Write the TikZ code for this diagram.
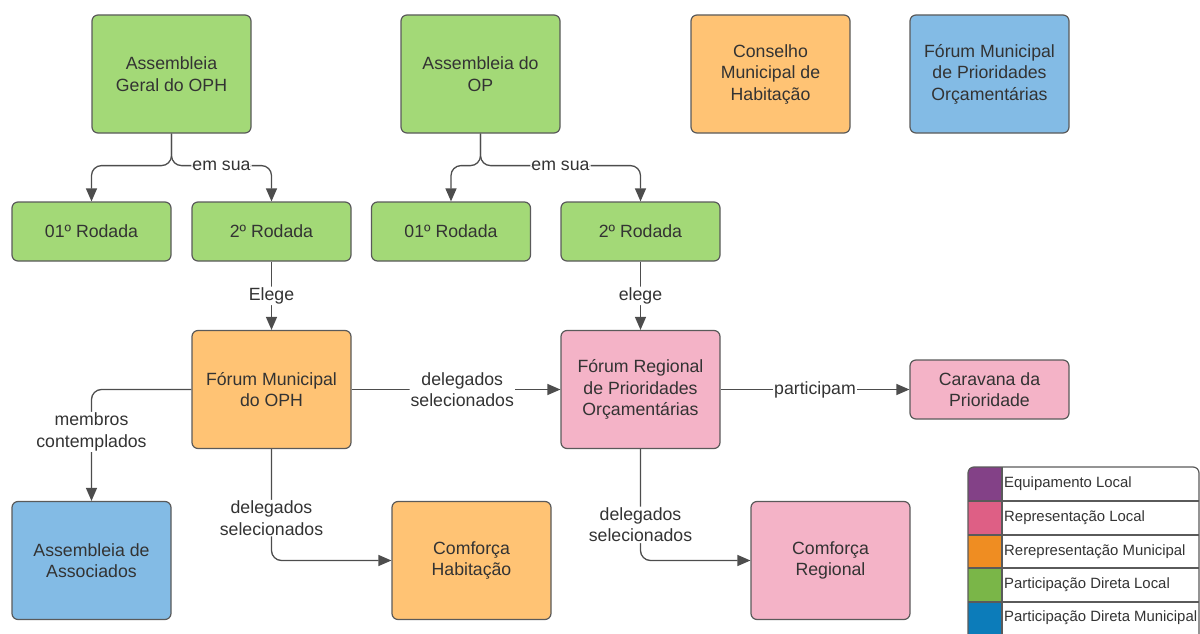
\documentclass[tikz,border=0pt]{standalone}
\usepackage{fontspec}
\setmainfont{Liberation Sans}
\usetikzlibrary{arrows.meta}
\definecolor{cgreen}{HTML}{A3D977}
\definecolor{corange}{HTML}{FFC374}
\definecolor{cblue}{HTML}{83BBE5}
\definecolor{cpink}{HTML}{F4B3C7}
\definecolor{lpurple}{HTML}{834187}
\definecolor{lpink}{HTML}{DE5F85}
\definecolor{lorange}{HTML}{EF8D22}
\definecolor{lgreen}{HTML}{7AB648}
\definecolor{lblue}{HTML}{0C7CBA}
\definecolor{bord}{HTML}{5A5A5A}
\definecolor{linec}{HTML}{4D4D4D}
\definecolor{txt}{HTML}{333333}
\tikzset{
  box/.style={draw=bord, line width=1.2pt, rounded corners=6pt, align=center, text=txt,
    font=\fontsize{17.7}{21.5}\selectfont, inner sep=0pt, minimum width=159pt},
  tall/.style={box, minimum height=118pt},
  short/.style={box, minimum height=59pt},
  conn/.style={draw=linec, line width=1.3pt, rounded corners=10pt, -{Triangle[length=13pt,width=11pt]}},
  lbl/.style={fill=white, text=txt, align=center, font=\fontsize{17.7}{21.5}\selectfont, inner sep=1pt},
  legtext/.style={text=txt, anchor=west, font=\fontsize{14.9}{18}\selectfont, inner sep=0pt},
}
\begin{document}
\begin{tikzpicture}[x=1pt,y=-1pt]
\useasboundingbox (0,0) rectangle (1200,634);
% top row
\node[tall, fill=cgreen] (ag) at (171.5,74) {Assembleia\\Geral do OPH};
\node[tall, fill=cgreen] (ao) at (480.5,74) {Assembleia do\\OP};
\node[tall, fill=corange] (cm) at (770.5,74) {Conselho\\Municipal de\\Habitação};
\node[tall, fill=cblue] (fm) at (989.5,74) {Fórum Municipal\\de Prioridades\\Orçamentárias};
% rodadas
\node[short, fill=cgreen] (r1) at (91.5,231.5) {01º Rodada};
\node[short, fill=cgreen] (r2) at (271.5,231.5) {2º Rodada};
\node[short, fill=cgreen] (r3) at (451,231.5) {01º Rodada};
\node[short, fill=cgreen] (r4) at (640.5,231.5) {2º Rodada};
% middle row
\node[tall, fill=corange] (fmo) at (271.5,389.5) {Fórum Municipal\\do OPH};
\node[tall, fill=cpink] (fr) at (640.5,389.5) {Fórum Regional\\de Prioridades\\Orçamentárias};
\node[short, fill=cpink] (cp) at (989.5,389.5) {Caravana da\\Prioridade};
% bottom row
\node[tall, fill=cblue] (aa) at (91.5,560.5) {Assembleia de\\Associados};
\node[tall, fill=corange] (ch) at (471.5,560.5) {Comforça\\Habitação};
\node[tall, fill=cpink] (cr) at (830.5,560.5) {Comforça\\Regional};
% connectors
\draw[conn] (ag.south) -- ++(0,32) -| (r1.north);
\draw[conn] (ag.south) -- ++(0,32) -| node[lbl, pos=0.25] {em sua} (r2.north);
\draw[conn] (ao.south) -- ++(0,32) -| (r3.north);
\draw[conn] (ao.south) -- ++(0,32) -| node[lbl, pos=0.25] {em sua} (r4.north);
\draw[conn] (r2.south) -- node[lbl] {Elege} (fmo.north);
\draw[conn] (r4.south) -- node[lbl] {elege} (fr.north);
\draw[conn] (fmo.east) -- node[lbl, pos=0.53] {delegados\\selecionados} (fr.west);
\draw[conn] (fr.east) -- node[lbl] {participam} (cp.west);
\draw[conn] (fmo.west) -| node[lbl, pos=0.69] {membros\\contemplados} (aa.north);
\draw[conn] (fmo.south) |- node[lbl, pos=0.31] {delegados\\selecionados} (ch.west);
\draw[conn] (fr.south) |- node[lbl, pos=0.34] {delegados\\selecionados} (cr.west);
% legend
\begin{scope}
\clip (0,0) rectangle (1200,634);
\begin{scope}
\clip[rounded corners=6pt] (968,467) rectangle (1199,640);
\fill[lpurple] (968,467) rectangle (1002,501);
\fill[lpink] (968,501) rectangle (1002,535);
\fill[lorange] (968,535) rectangle (1002,568);
\fill[lgreen] (968,568) rectangle (1002,602);
\fill[lblue] (968,602) rectangle (1002,640);
\end{scope}
\draw[bord, line width=1.2pt, rounded corners=6pt] (968,467) rectangle (1199,640);
\draw[bord, line width=1.2pt] (968,501) -- (1199,501) (968,535) -- (1199,535)
  (968,568) -- (1199,568) (968,602) -- (1199,602) (1002,467) -- (1002,640);
\end{scope}
\node[legtext] (l1) at (1004,484) {Equipamento Local};
\node[legtext] (l2) at (1004,518) {Representação Local};
\node[legtext] (l3) at (1004,551.5) {Rerepresentação Municipal};
\node[legtext] (l4) at (1004,585) {Participação Direta Local};
\node[legtext] (l5) at (1004,618) {Participação Direta Municipal};
\end{tikzpicture}
\end{document}
